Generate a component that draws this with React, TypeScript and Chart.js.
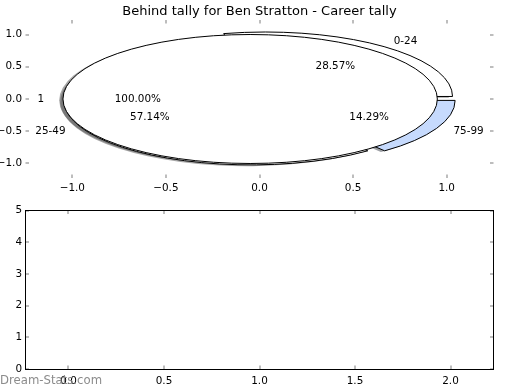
import React, { useEffect, useRef } from 'react';
import { Chart, registerables } from 'chart.js';

Chart.register(...registerables);

const TITLE = 'Behind tally for Ben Stratton - Career tally';
const WATERMARK = 'Dream-Stats.com';

// inner (3-slice) pie
const innerLabels = ['0-24', '25-49', '75-99'];
const innerValues = [2, 4, 1];
const innerColors = ['#ffffff', '#ffffff', '#c6dafd'];
// outer single-slice pie drawn on top
const outerLabels = ['1'];
const outerValues = [1];
const outerColors = ['#ffffff'];
const explodeAmount = 0.05;

const topXTicks = [-1, -0.5, 0, 0.5, 1];
const topYTicks = [-1, -0.5, 0, 0.5, 1];
const bottomXTicks = [0, 0.5, 1, 1.5, 2];
const bottomYTicks = [0, 1, 2, 3, 4, 5];

const FONT = '"DejaVu Sans", sans-serif';
const TICK_FONT = { family: FONT, size: 10.4 };
const TICK_MARK_COLOR = '#bdbdbd';

const fmtSigned = (v: number) => Number(v).toFixed(1).replace('-', '\u2212');

type PieSpec = { values: number[]; colors: string[]; labels: string[] };

function pieGeom(chart: any, spec: PieSpec) {
  const xs = chart.scales.x;
  const ys = chart.scales.y;
  const ux = xs.getPixelForValue(1) - xs.getPixelForValue(0);
  const uy = ys.getPixelForValue(0) - ys.getPixelForValue(1);
  const total = spec.values.reduce((a, b) => a + b, 0);
  let t1 = 0;
  return spec.values.map((v, i) => {
    const frac = v / total;
    const t2 = t1 + 360 * frac;
    const mid = ((t1 + t2) / 2) * Math.PI / 180;
    const ox = explodeAmount * Math.cos(mid);
    const oy = explodeAmount * Math.sin(mid);
    const g = {
      t1, t2, mid, ox, oy, frac,
      color: spec.colors[i], label: spec.labels[i],
      px: (x: number) => xs.getPixelForValue(x),
      py: (y: number) => ys.getPixelForValue(y),
      rx: ux, ry: uy,
    };
    t1 = t2;
    return g;
  });
}

function wedgePath(ctx: CanvasRenderingContext2D, cx: number, cy: number, rx: number, ry: number, t1: number, t2: number) {
  ctx.beginPath();
  if (Math.abs(t2 - t1 - 360) < 1e-9) {
    ctx.ellipse(cx, cy, rx, ry, 0, 0, Math.PI * 2);
  } else {
    ctx.moveTo(cx, cy);
    ctx.ellipse(cx, cy, rx, ry, 0, -t1 * Math.PI / 180, -t2 * Math.PI / 180, true);
    ctx.closePath();
  }
}

function shadowColor(hex: string) {
  const n = parseInt(hex.slice(1), 16);
  const r = Math.round(((n >> 16) & 255) * 0.3);
  const g = Math.round(((n >> 8) & 255) * 0.3);
  const b = Math.round((n & 255) * 0.3);
  return `rgba(${r},${g},${b},0.5)`;
}

const piePlugin = {
  id: 'ellipsePies',
  beforeDatasetsDraw(chart: any) {
    const ctx: CanvasRenderingContext2D = chart.ctx;
    const pies: PieSpec[] = [
      { values: innerValues, colors: innerColors, labels: innerLabels },
      { values: outerValues, colors: outerColors, labels: outerLabels },
    ];
    const geoms = pies.map((p) => pieGeom(chart, p));
    ctx.save();
    // shadows first
    geoms.forEach((gs) => gs.forEach((g) => {
      wedgePath(ctx, g.px(g.ox - 0.02), g.py(g.oy - 0.02), g.rx, g.ry, g.t1, g.t2);
      ctx.fillStyle = shadowColor(g.color);
      ctx.fill();
    }));
    // wedges
    geoms.forEach((gs) => gs.forEach((g) => {
      wedgePath(ctx, g.px(g.ox), g.py(g.oy), g.rx, g.ry, g.t1, g.t2);
      ctx.fillStyle = g.color;
      ctx.fill();
      ctx.lineWidth = 1;
      ctx.strokeStyle = '#000000';
      ctx.stroke();
    }));
    // texts
    ctx.font = `10.4px ${FONT}`;
    ctx.fillStyle = '#000000';
    ctx.textBaseline = 'middle';
    geoms.forEach((gs) => gs.forEach((g) => {
      const lx = g.ox + 1.1 * Math.cos(g.mid);
      const ly = g.oy + 1.1 * Math.sin(g.mid);
      ctx.textAlign = lx > 0 ? 'left' : 'right';
      ctx.fillText(g.label, g.px(lx), g.py(ly));
      const tx = g.ox + 0.6 * Math.cos(g.mid);
      const ty = g.oy + 0.6 * Math.sin(g.mid);
      ctx.textAlign = 'center';
      ctx.fillText((g.frac * 100).toFixed(2) + '%', g.px(tx), g.py(ty));
    }));
    ctx.restore();
  },
};

const tickMarkPlugin = (xt: number[], yt: number[], frame: boolean) => ({
  id: 'tickMarks',
  afterDraw(chart: any) {
    const ctx: CanvasRenderingContext2D = chart.ctx;
    const a = chart.chartArea;
    const xs = chart.scales.x;
    const ys = chart.scales.y;
    ctx.save();
    ctx.fillStyle = TICK_MARK_COLOR;
    const L = 3.5;
    xt.forEach((v) => {
      const x = Math.round(xs.getPixelForValue(v)) - 1;
      ctx.fillRect(x, a.top, 2, L);
      ctx.fillRect(x, a.bottom - L, 2, L);
    });
    yt.forEach((v) => {
      const y = Math.round(ys.getPixelForValue(v)) - 1;
      ctx.fillRect(a.left, y, L, 2);
      ctx.fillRect(a.right - L, y, L, 2);
    });
    if (frame) {
      ctx.strokeStyle = '#000000';
      ctx.lineWidth = 1;
      const l = Math.floor(a.left) + 0.5;
      const r = Math.floor(a.right) + 0.5;
      const t = Math.floor(a.top) + 0.5;
      const b = Math.floor(a.bottom) + 0.5;
      ctx.strokeRect(l, t, r - l, b - t);
    }
    ctx.restore();
  },
});

const titlePlugin = {
  id: 'topTitle',
  afterDraw(chart: any) {
    const ctx: CanvasRenderingContext2D = chart.ctx;
    const a = chart.chartArea;
    ctx.save();
    ctx.font = `13px ${FONT}`;
    ctx.fillStyle = '#000000';
    ctx.textAlign = 'center';
    ctx.textBaseline = 'alphabetic';
    ctx.fillText(TITLE, (a.left + a.right) / 2, 15);
    ctx.restore();
  },
};

const watermarkPlugin = {
  id: 'watermark',
  afterDraw(chart: any) {
    const ctx: CanvasRenderingContext2D = chart.ctx;
    ctx.save();
    ctx.font = `11.7px ${FONT}`;
    ctx.fillStyle = '#8c8c8c';
    ctx.textAlign = 'left';
    ctx.textBaseline = 'alphabetic';
    ctx.fillText(WATERMARK, 0, 183.5);
    ctx.restore();
  },
};

const gridOff = { display: false, drawTicks: false, tickLength: 0 };

export default function App() {
  const topRef = useRef<HTMLCanvasElement | null>(null);
  const botRef = useRef<HTMLCanvasElement | null>(null);

  useEffect(() => {
    const top = new Chart(topRef.current as HTMLCanvasElement, {
      type: 'scatter',
      data: { datasets: [] },
      options: {
        responsive: false,
        animation: false,
        layout: { padding: { left: 0, right: 26.5, top: 20, bottom: 0 } },
        plugins: { legend: { display: false }, tooltip: { enabled: false }, title: { display: false } },
        scales: {
          x: {
            type: 'linear', min: -1.25, max: 1.25,
            afterBuildTicks: (s: any) => { s.ticks = topXTicks.map((v) => ({ value: v })); },
            afterFit: (s: any) => { s.height = 22; },
            grid: gridOff, border: { display: false },
            ticks: { color: '#000', font: TICK_FONT, padding: 3.8, maxRotation: 0, autoSkip: false, callback: (v: any) => fmtSigned(v) },
          },
          y: {
            type: 'linear', min: -1.225, max: 1.225,
            afterBuildTicks: (s: any) => { s.ticks = topYTicks.map((v) => ({ value: v })); },
            afterFit: (s: any) => { s.width = 25.5; },
            grid: gridOff, border: { display: false },
            ticks: { color: '#000', font: TICK_FONT, padding: 3.5, autoSkip: false, callback: (v: any) => fmtSigned(v) },
          },
        },
      },
      plugins: [piePlugin, tickMarkPlugin(topXTicks, topYTicks, false), titlePlugin],
    } as any);

    const bottom = new Chart(botRef.current as HTMLCanvasElement, {
      type: 'scatter',
      data: { datasets: [] },
      options: {
        responsive: false,
        animation: false,
        layout: { padding: { left: 0, right: 26.5, top: 10.5, bottom: 0 } },
        plugins: { legend: { display: false }, tooltip: { enabled: false }, title: { display: false } },
        scales: {
          x: {
            type: 'linear', min: -0.225, max: 2.225,
            afterBuildTicks: (s: any) => { s.ticks = bottomXTicks.map((v) => ({ value: v })); },
            afterFit: (s: any) => { s.height = 21; },
            grid: gridOff, border: { display: false },
            ticks: { color: '#000', font: TICK_FONT, padding: 6.5, maxRotation: 0, autoSkip: false, callback: (v: any) => fmtSigned(v) },
          },
          y: {
            type: 'linear', min: 0, max: 5,
            afterBuildTicks: (s: any) => { s.ticks = bottomYTicks.map((v) => ({ value: v })); },
            afterFit: (s: any) => { s.width = 25.5; },
            grid: gridOff, border: { display: false },
            ticks: { color: '#000', font: TICK_FONT, padding: 3.5, autoSkip: false, callback: (v: any) => String(Math.round(v)) },
          },
        },
      },
      plugins: [tickMarkPlugin(bottomXTicks, bottomYTicks, true), watermarkPlugin],
    } as any);

    return () => {
      top.destroy();
      bottom.destroy();
    };
  }, []);

  return (
    <div style={{ position: 'fixed', left: 0, top: 0, width: 520, height: 390, background: '#ffffff' }}>
      <canvas ref={topRef} width={520} height={200} style={{ position: 'absolute', left: 0, top: 0, display: 'block' }} />
      <canvas ref={botRef} width={520} height={190} style={{ position: 'absolute', left: 0, top: 200, display: 'block' }} />
    </div>
  );
}
